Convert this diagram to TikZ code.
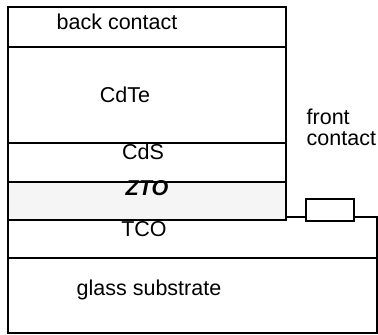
\documentclass[tikz,border=0pt]{standalone}
\usepackage{fontspec}
\setmainfont{Liberation Sans}
\definecolor{ztofill}{HTML}{F5F5F5}
\tikzset{
  layer/.style={draw=black, line width=1.6pt},
  label/.style={inner sep=0pt, anchor=base, font=\fontsize{21.5}{25}\selectfont},
  contactbox/.style={draw=black, fill=white, line width=1.6pt, inner sep=0pt,
    minimum width=48pt, minimum height=22pt}
}
\begin{document}
\begin{tikzpicture}[x=1pt, y=-1pt]
  \useasboundingbox (0,0) rectangle (378,335);
  % substrate and transparent conducting oxide
  \draw[layer] (8,258) rectangle (377,333);
  \draw[layer] (8,217) rectangle (377,258);
  % device stack
  \draw[layer] (8,6.7) rectangle (286,46.7);
  \draw[layer] (8,46.7) rectangle (286,142.7);
  \draw[layer] (8,142.7) rectangle (286,181.7);
  \draw[layer, fill=ztofill] (8,181.7) rectangle (286,220);
  % front contact pad on the TCO
  \node[contactbox] (fc) at (330,210) {};
  % layer names
  \node[label] (back) at (117,29) {back contact};
  \node[label] (cdte) at (125,102.7) {CdTe};
  \node[label] (cds) at (143,159) {CdS};
  \node[label] (zto) at (147,195) {\textbf{\textit{ZTO}}};
  \node[label] (tco) at (144,236) {TCO};
  \node[label] (glass) at (149,295) {glass substrate};
  \node[label, anchor=base west] (front) at (306.5,124) {front};
  \node[label, anchor=base west] (contact) at (306.5,145) {contact};
\end{tikzpicture}
\end{document}
